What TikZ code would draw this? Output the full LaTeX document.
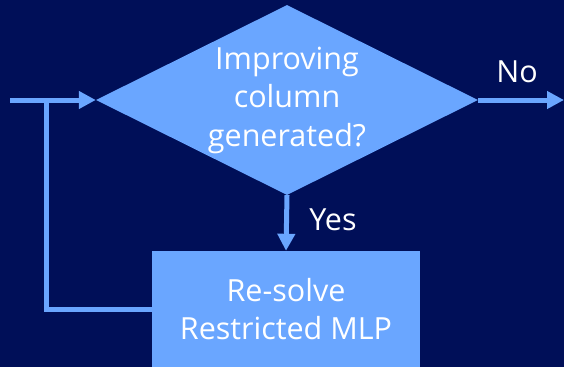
\documentclass[tikz,border=0pt]{standalone}
\usepackage{fontspec}
\setmainfont{Open Sans}
\usetikzlibrary{shapes.geometric,arrows.meta}
\definecolor{navy}{HTML}{000F58}
\definecolor{skyblue}{HTML}{6AA6FF}
\tikzset{
  bigtext/.style={text=white,align=center,font=\fontsize{30.5}{38.5}\selectfont},
  decision/.style={diamond,fill=skyblue,inner sep=0pt,
    minimum width=382pt,minimum height=190pt},
  process/.style={rectangle,fill=skyblue,bigtext,
    minimum width=268pt,minimum height=116pt},
  flow/.style={draw=skyblue,line width=5pt,-{Triangle[length=17pt,width=17pt]}},
  tag/.style={text=white,font=\fontsize{30.5}{34}\selectfont}
}
\begin{document}
\begin{tikzpicture}[x=1pt,y=-1pt]
  \fill[navy] (0,0) rectangle (564,367);
  \useasboundingbox (0,0) rectangle (564,367);
  \clip (0,0) rectangle (564,367);
  \node[decision] (test) at (287,100) {};
  \node[bigtext] (question) at (test.center) {Improving\\column\\generated?};
  \node[process] (resolve) at (286,309) {Re-solve\\Restricted MLP};
  \coordinate (in) at (10,100);
  \coordinate (out) at (564,100);
  \coordinate (loop) at (46.5,100);
  \draw[flow] (in) -- (test.west);
  \draw[flow] (test.east) -- (out);
  \draw[flow] (test.south) -- (resolve.north);
  \draw[draw=skyblue,line width=5pt] (resolve.west) -| (loop);
  \node[tag] (no) at (517,72) {No};
  \node[tag] (yes) at (333,220) {Yes};
\end{tikzpicture}
\end{document}
